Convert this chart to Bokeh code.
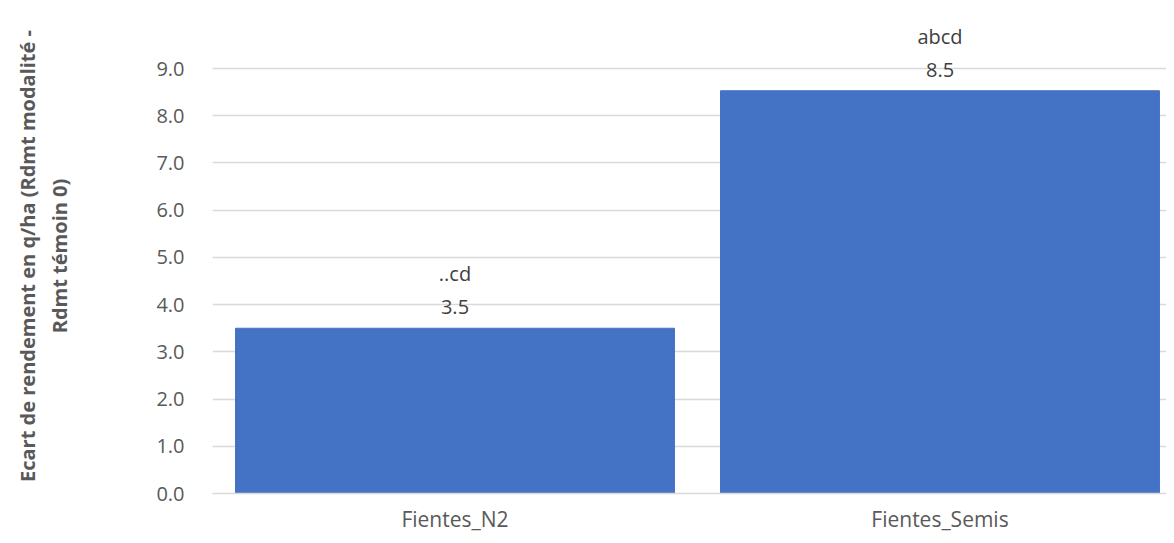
from bokeh.plotting import figure
from bokeh.models import ColumnDataSource, Range1d, FixedTicker, NumeralTickFormatter
from bokeh.core.properties import value
from bokeh.embed import file_html
from bokeh.resources import INLINE

categories = ["Fientes_N2", "Fientes_Semis"]
values = [3.5, 8.53]
value_labels = ["3.5", "8.5"]
letter_labels = ["..cd", "abcd"]
y_ticks = [0, 1, 2, 3, 4, 5, 6, 7, 8, 9]

FONT = "Open Sans"
GREY = "#595959"

xpos = [i + 0.5 for i in range(len(categories))]
src = ColumnDataSource(dict(x=xpos, val=values, vlab=value_labels, llab=letter_labels))

p = figure(width=1166, height=535, x_range=Range1d(0, 1.967),
           y_range=Range1d(0, 10.06), output_backend="svg", toolbar_location=None,
           min_border_left=212, min_border_right=0, min_border_top=18, min_border_bottom=41)
p.outline_line_color = None
p.background_fill_color = "white"
p.border_fill_color = "white"

p.vbar(x="x", top="val", width=0.905, source=src, color="#4472C4")

p.text(x="x", y="val", text="vlab", source=src, text_align="center", text_baseline="bottom",
       y_offset=-14, text_font=value(FONT), text_font_size="20px", text_color="#404040")
p.text(x="x", y="val", text="llab", source=src, text_align="center", text_baseline="bottom",
       y_offset=-41, text_font=value(FONT), text_font_size="20px", text_color="#404040")

p.yaxis.ticker = FixedTicker(ticks=y_ticks)
p.yaxis.formatter = NumeralTickFormatter(format="0.0")
p.yaxis.axis_line_color = None
p.yaxis.major_tick_line_color = None
p.yaxis.minor_tick_line_color = None
p.yaxis.major_label_text_font = FONT
p.yaxis.major_label_text_font_size = "20px"
p.yaxis.major_label_text_color = GREY
p.yaxis.major_label_standoff = 22
p.yaxis.axis_label = "Ecart de rendement en q/ha (Rdmt modalité -\nRdmt témoin 0)"
p.yaxis.axis_label_text_font = FONT
p.yaxis.axis_label_text_font_size = "20px"
p.yaxis.axis_label_text_font_style = "bold"
p.yaxis.axis_label_text_color = GREY
p.yaxis.axis_label_standoff = 80

p.xaxis.ticker = FixedTicker(ticks=xpos)
p.xaxis.major_label_overrides = {x: c for x, c in zip(xpos, categories)}
p.xaxis.axis_line_color = "#d9d9d9"
p.xaxis.axis_line_width = 1.5
p.xaxis.major_tick_line_color = None
p.xaxis.minor_tick_line_color = None
p.xaxis.major_label_text_font = FONT
p.xaxis.major_label_text_font_size = "21px"
p.xaxis.major_label_text_color = GREY
p.xaxis.major_label_standoff = 5

p.xgrid.grid_line_color = None
p.ygrid.grid_line_color = "#d9d9d9"
p.ygrid.grid_line_width = 1.5

open("out.html", "w").write(file_html(p, INLINE))
